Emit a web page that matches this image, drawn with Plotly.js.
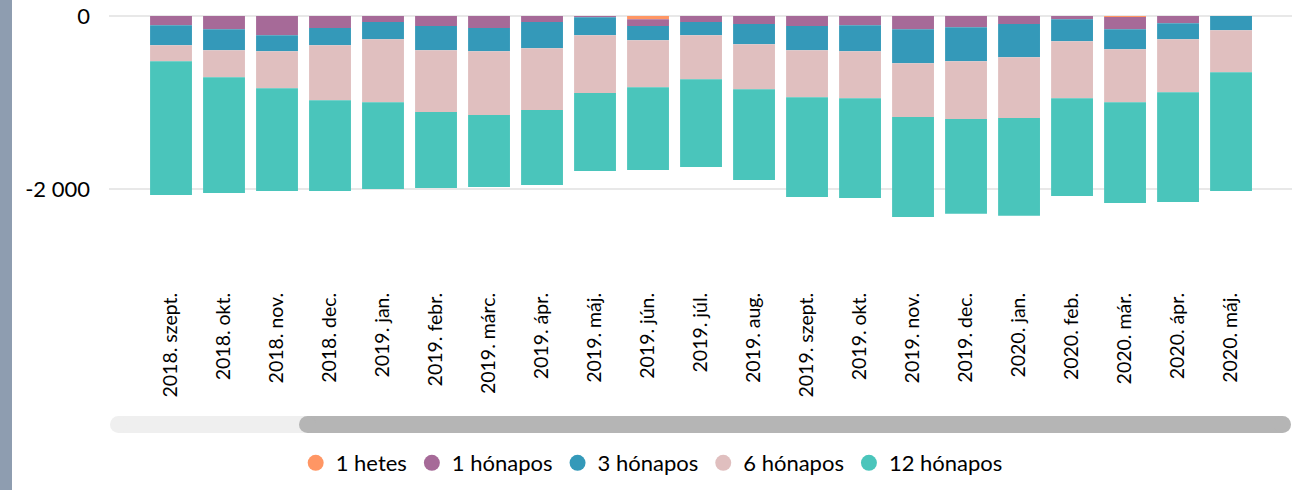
<!DOCTYPE html>
<html>
<head>
<meta charset="utf-8">
<script src="https://cdn.plot.ly/plotly-3.0.1.min.js"></script>
<style>
  html, body { margin: 0; padding: 0; background: #ffffff; }
  #chart { width: 1293px; height: 490px; }
</style>
</head>
<body>
<div id="chart"></div>
<script>
// ---- data ----
const categories = ["2018. szept.","2018. okt.","2018. nov.","2018. dec.","2019. jan.","2019. febr.","2019. márc.","2019. ápr.","2019. máj.","2019. jún.","2019. júl.","2019. aug.","2019. szept.","2019. okt.","2019. nov.","2019. dec.","2020. jan.","2020. feb.","2020. már.","2020. ápr.","2020. máj."];
const seriesNames = ["1 hetes", "1 hónapos", "3 hónapos", "6 hónapos", "12 hónapos"];
const hetes1   = [0,0,0,0,0,0,0,0,0,-38,0,0,0,0,0,0,0,0,-12,0,0];
const honapos1 = [-107,-153,-222,-138,-69,-115,-138,-69,-15,-77,-69,-92,-115,-107,-153,-130,-92,-38,-142,-84,0];
const honapos3 = [-230,-242,-184,-199,-199,-280,-268,-303,-207,-165,-153,-234,-280,-299,-391,-391,-383,-253,-230,-184,-165];
const honapos6 = [-184,-311,-426,-633,-725,-713,-736,-713,-667,-541,-506,-518,-541,-541,-621,-667,-702,-656,-610,-610,-483];
const honapos12 = [-1542,-1335,-1185,-1047,-1001,-874,-828,-863,-897,-955,-1012,-1047,-1151,-1151,-1151,-1093,-1127,-1127,-1162,-1266,-1369];
const yTickVals = [-2000, 0];
const yTickText = ["-2 000", "0"];
const colors = ["#FF9664", "#A66A98", "#3499B9", "#E0BFBF", "#4AC5BB"];

const seriesValues = [hetes1, honapos1, honapos3, honapos6, honapos12];
const FONT = "Lato, 'Open Sans', sans-serif";

// layout geometry (pixels)
const W = 1293, H = 490;
const L = 109, R = 1, T = 12, B = 283;
const plotW = W - L - R, plotH = B - T;
const px2x = p => (p - L) / plotW;
const py2y = p => (B - p) / plotH;

const traces = [];
seriesValues.forEach((vals, i) => {
  traces.push({
    type: "bar", x: categories, y: vals, name: seriesNames[i],
    marker: { color: colors[i], line: { width: 0 } },
    showlegend: false, hoverinfo: "x+y+name"
  });
});
seriesNames.forEach((n, i) => {
  traces.push({
    type: "scatter", mode: "markers", x: [null], y: [null], name: n,
    marker: { color: colors[i], size: 20, symbol: "circle" },
    showlegend: true, hoverinfo: "skip"
  });
});

function roundBar(x0, x1, y0, y1, color) {
  const r = (y1 - y0) / 2;
  return [
    { type: "rect", xref: "paper", yref: "paper", x0: px2x(x0 + r), x1: px2x(x1 - r), y0: py2y(y1), y1: py2y(y0), fillcolor: color, line: { width: 0 } },
    { type: "circle", xref: "paper", yref: "paper", x0: px2x(x0), x1: px2x(x0 + 2 * r), y0: py2y(y1), y1: py2y(y0), fillcolor: color, line: { width: 0 } },
    { type: "circle", xref: "paper", yref: "paper", x0: px2x(x1 - 2 * r), x1: px2x(x1), y0: py2y(y1), y1: py2y(y0), fillcolor: color, line: { width: 0 } }
  ];
}

const shapes = [
  { type: "rect", xref: "paper", yref: "paper", x0: px2x(0), x1: px2x(12), y0: py2y(H), y1: py2y(0), fillcolor: "#8E9DB0", line: { width: 0 } }
].concat(roundBar(110, 1291, 416, 433, "#EFEFEF")).concat(roundBar(299, 1291, 416, 433, "#B5B5B5"));

const layout = {
  width: W, height: H,
  margin: { l: L, r: R, t: T, b: H - B, pad: 0 },
  paper_bgcolor: "#ffffff", plot_bgcolor: "#ffffff",
  barmode: "relative", bargap: 0.21,
  font: { family: FONT, color: "#000000" },
  showlegend: true,
  legend: {
    orientation: "h", xref: "container", yref: "container",
    x: 0.504, xanchor: "center", y: 1 - 463 / H, yanchor: "middle",
    font: { family: FONT, size: 22, color: "#000000" },
    traceorder: "normal", itemclick: false, itemdoubleclick: false
  },
  xaxis: {
    type: "category", range: [-1.17, 21.15], fixedrange: true,
    tickangle: -90, showgrid: false, zeroline: false, showline: false, ticks: "",
    tickfont: { family: FONT, size: 19.5, color: "#000000" },
    ticklabelstandoff: 5
  },
  yaxis: {
    range: [-3078, 46], fixedrange: true,
    tickmode: "array", tickvals: yTickVals, ticktext: yTickText,
    showgrid: true, gridcolor: "#E8E8E8", gridwidth: 2,
    zeroline: false, showline: false, ticks: "",
    tickfont: { family: FONT, size: 22, color: "#000000" },
    ticklabelstandoff: 18
  },
  shapes: shapes
};

Plotly.newPlot("chart", traces, layout, { displayModeBar: false, staticPlot: true });
</script>
</body>
</html>
